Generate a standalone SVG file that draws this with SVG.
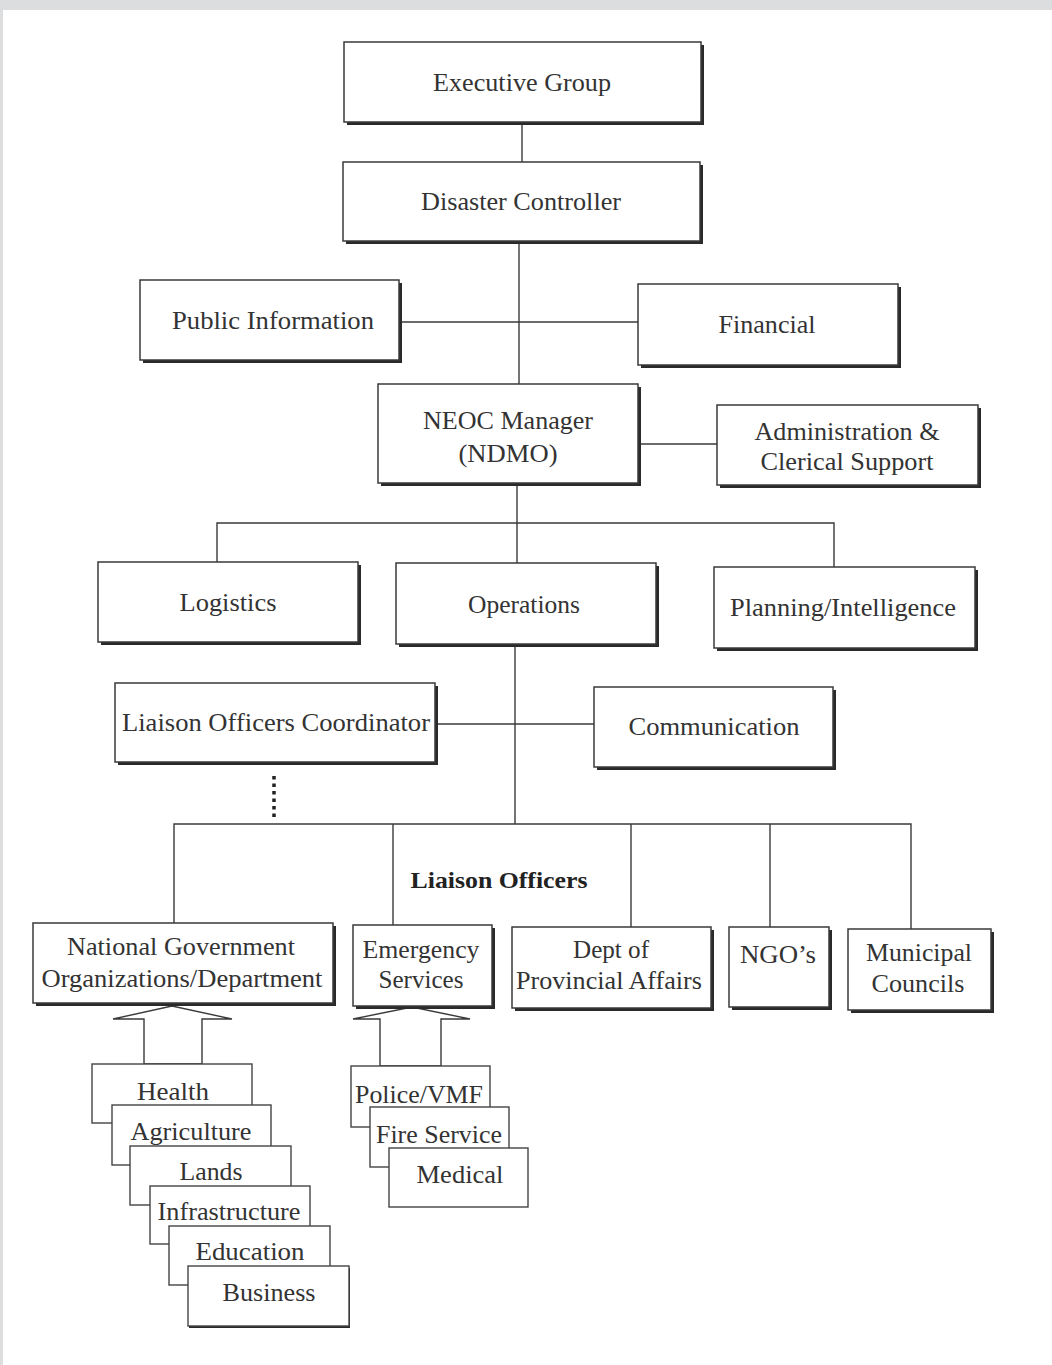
<svg xmlns="http://www.w3.org/2000/svg" width="1052" height="1365" viewBox="0 0 1052 1365">
<style>
.box{fill:#fff;stroke:#3a3a3a;stroke-width:1.5}
.sh{fill:#2a2a2a}
.sb{fill:#fff;stroke:#444;stroke-width:1.4}
.t{font-family:"Liberation Serif","Times New Roman",serif;font-size:25.5px;fill:#333;text-anchor:middle}
.b{font-weight:bold;font-size:24px;fill:#222}
.c{stroke:#3a3a3a;stroke-width:1.4;fill:none}
.dot{stroke:#222;stroke-width:3.5;stroke-dasharray:3.5 4;fill:none}
.arr{fill:#fff;stroke:#3a3a3a;stroke-width:1.4}
</style>
<rect x="0" y="0" width="1052" height="1365" fill="#fff"/>
<rect x="0" y="0" width="1052" height="10" fill="#dcdddf"/>
<rect x="0" y="0" width="3" height="1365" fill="#dcdddf"/>

<g id="connectors">
<line class="c" x1="522" y1="122" x2="522" y2="162"/>
<line class="c" x1="519" y1="242" x2="519" y2="384"/>
<line class="c" x1="400" y1="322" x2="638" y2="322"/>
<line class="c" x1="638" y1="444" x2="717" y2="444"/>
<line class="c" x1="517" y1="484" x2="517" y2="564"/>
<polyline class="c" points="217,562 217,523 834,523 834,567"/>
<line class="c" x1="515" y1="646" x2="515" y2="824"/>
<line class="c" x1="435" y1="724" x2="594" y2="724"/>
<line class="dot" x1="274" y1="776" x2="274" y2="820"/>
<polyline class="c" points="174,923 174,824 911,824 911,929"/>
<line class="c" x1="393" y1="824" x2="393" y2="925"/>
<line class="c" x1="631" y1="824" x2="631" y2="927"/>
<line class="c" x1="770" y1="824" x2="770" y2="927"/>
<polygon class="arr" points="144,1064 144,1019 113,1019 172,1006 232,1019 202,1019 202,1064"/>
<polygon class="arr" points="380,1066 380,1019 353,1019 412,1007 470,1019 441,1019 441,1066"/>
</g>

<g id="executive-group">
<rect class="sh" x="347" y="45" width="357" height="80"/>
<rect class="box" x="344" y="42" width="357" height="80"/>
<text class="t" x="522" y="91" textLength="178" lengthAdjust="spacingAndGlyphs">Executive Group</text>
</g>
<g id="disaster-controller">
<rect class="sh" x="346" y="165" width="357" height="79"/>
<rect class="box" x="343" y="162" width="357" height="79"/>
<text class="t" x="521" y="210" textLength="200" lengthAdjust="spacingAndGlyphs">Disaster Controller</text>
</g>
<g id="public-information">
<rect class="sh" x="143" y="283" width="259" height="80"/>
<rect class="box" x="140" y="280" width="259" height="80"/>
<text class="t" x="273" y="329" textLength="202" lengthAdjust="spacingAndGlyphs">Public Information</text>
</g>
<g id="financial">
<rect class="sh" x="641" y="287" width="260" height="81"/>
<rect class="box" x="638" y="284" width="260" height="81"/>
<text class="t" x="767" y="333" textLength="97" lengthAdjust="spacingAndGlyphs">Financial</text>
</g>
<g id="neoc-manager">
<rect class="sh" x="381" y="387" width="260" height="99"/>
<rect class="box" x="378" y="384" width="260" height="99"/>
<text class="t" x="508" y="429" textLength="170" lengthAdjust="spacingAndGlyphs">NEOC Manager</text>
<text class="t" x="508" y="462" textLength="99" lengthAdjust="spacingAndGlyphs">(NDMO)</text>
</g>
<g id="administration">
<rect class="sh" x="720" y="408" width="261" height="80"/>
<rect class="box" x="717" y="405" width="261" height="80"/>
<text class="t" x="847" y="440" textLength="185" lengthAdjust="spacingAndGlyphs">Administration &amp;</text>
<text class="t" x="847" y="470" textLength="173" lengthAdjust="spacingAndGlyphs">Clerical Support</text>
</g>
<g id="logistics">
<rect class="sh" x="101" y="565" width="260" height="80"/>
<rect class="box" x="98" y="562" width="260" height="80"/>
<text class="t" x="228" y="611" textLength="97" lengthAdjust="spacingAndGlyphs">Logistics</text>
</g>
<g id="operations">
<rect class="sh" x="399" y="566" width="260" height="81"/>
<rect class="box" x="396" y="563" width="260" height="81"/>
<text class="t" x="524" y="613" textLength="112" lengthAdjust="spacingAndGlyphs">Operations</text>
</g>
<g id="planning-intelligence">
<rect class="sh" x="717" y="570" width="261" height="81"/>
<rect class="box" x="714" y="567" width="261" height="81"/>
<text class="t" x="843" y="616" textLength="226" lengthAdjust="spacingAndGlyphs">Planning/Intelligence</text>
</g>
<g id="liaison-officers-coordinator">
<rect class="sh" x="118" y="686" width="320" height="79"/>
<rect class="box" x="115" y="683" width="320" height="79"/>
<text class="t" x="276" y="731" textLength="308" lengthAdjust="spacingAndGlyphs">Liaison Officers Coordinator</text>
</g>
<g id="communication">
<rect class="sh" x="597" y="690" width="239" height="80"/>
<rect class="box" x="594" y="687" width="239" height="80"/>
<text class="t" x="714" y="735" textLength="171" lengthAdjust="spacingAndGlyphs">Communication</text>
</g>
<g id="liaison-officers-label">
<text class="t b" x="499" y="888" textLength="177" lengthAdjust="spacingAndGlyphs">Liaison Officers</text>
</g>
<g id="national-government">
<rect class="sh" x="36" y="926" width="300" height="80"/>
<rect class="box" x="33" y="923" width="300" height="80"/>
<text class="t" x="181" y="955" textLength="228" lengthAdjust="spacingAndGlyphs">National Government</text>
<text class="t" x="182" y="987" textLength="281" lengthAdjust="spacingAndGlyphs">Organizations/Department</text>
</g>
<g id="emergency-services">
<rect class="sh" x="356" y="928" width="139" height="81"/>
<rect class="box" x="353" y="925" width="139" height="81"/>
<text class="t" x="421" y="958" textLength="117" lengthAdjust="spacingAndGlyphs">Emergency</text>
<text class="t" x="421" y="988" textLength="85" lengthAdjust="spacingAndGlyphs">Services</text>
</g>
<g id="dept-provincial-affairs">
<rect class="sh" x="515" y="930" width="199" height="81"/>
<rect class="box" x="512" y="927" width="199" height="81"/>
<text class="t" x="611" y="958" textLength="76" lengthAdjust="spacingAndGlyphs">Dept of</text>
<text class="t" x="609" y="989" textLength="186" lengthAdjust="spacingAndGlyphs">Provincial Affairs</text>
</g>
<g id="ngos">
<rect class="sh" x="732" y="930" width="100" height="80"/>
<rect class="box" x="729" y="927" width="100" height="80"/>
<text class="t" x="778" y="963" textLength="76" lengthAdjust="spacingAndGlyphs">NGO’s</text>
</g>
<g id="municipal-councils">
<rect class="sh" x="851" y="932" width="143" height="81"/>
<rect class="box" x="848" y="929" width="143" height="81"/>
<text class="t" x="919" y="961" textLength="106" lengthAdjust="spacingAndGlyphs">Municipal</text>
<text class="t" x="918" y="992" textLength="93" lengthAdjust="spacingAndGlyphs">Councils</text>
</g>

<g id="health">
<rect class="sb" x="92" y="1064" width="160" height="59"/>
<text class="t" x="173" y="1100" textLength="72" lengthAdjust="spacingAndGlyphs">Health</text>
</g>
<g id="agriculture">
<rect class="sb" x="112" y="1105" width="159" height="60"/>
<text class="t" x="191" y="1140" textLength="121" lengthAdjust="spacingAndGlyphs">Agriculture</text>
</g>
<g id="lands">
<rect class="sb" x="130" y="1146" width="161" height="59"/>
<text class="t" x="211" y="1180" textLength="63" lengthAdjust="spacingAndGlyphs">Lands</text>
</g>
<g id="infrastructure">
<rect class="sb" x="150" y="1186" width="160" height="58"/>
<text class="t" x="229" y="1220" textLength="143" lengthAdjust="spacingAndGlyphs">Infrastructure</text>
</g>
<g id="education">
<rect class="sb" x="169" y="1226" width="161" height="59"/>
<text class="t" x="250" y="1260" textLength="109" lengthAdjust="spacingAndGlyphs">Education</text>
</g>
<g id="business">
<rect class="sh" x="189" y="1268" width="161" height="60" fill="#888"/>
<rect class="sb" x="188" y="1266" width="161" height="60"/>
<text class="t" x="269" y="1301" textLength="93" lengthAdjust="spacingAndGlyphs">Business</text>
</g>
<g id="police-vmf">
<rect class="sb" x="351" y="1066" width="139" height="61"/>
<text class="t" x="419" y="1103" textLength="128" lengthAdjust="spacingAndGlyphs">Police/VMF</text>
</g>
<g id="fire-service">
<rect class="sb" x="370" y="1107" width="139" height="60"/>
<text class="t" x="439" y="1143" textLength="126" lengthAdjust="spacingAndGlyphs">Fire Service</text>
</g>
<g id="medical">
<rect class="sb" x="389" y="1148" width="139" height="59"/>
<text class="t" x="460" y="1183" textLength="87" lengthAdjust="spacingAndGlyphs">Medical</text>
</g>
</svg>
